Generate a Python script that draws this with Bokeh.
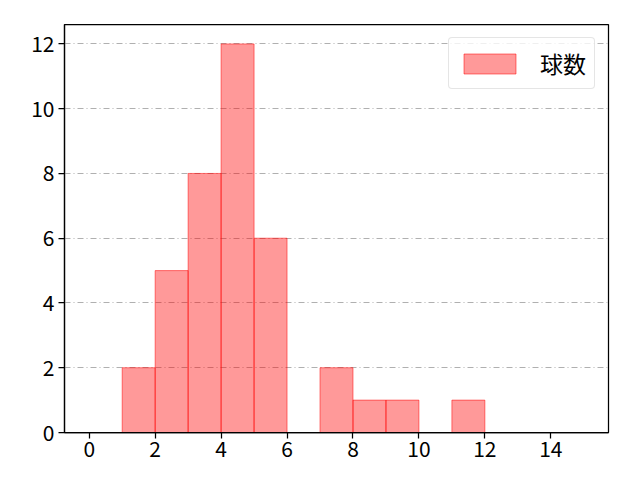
from bokeh.plotting import figure
from bokeh.models import ColumnDataSource, Range1d, FixedTicker, Legend, LegendItem
from bokeh.embed import file_html
from bokeh.resources import INLINE

bin_edges = list(range(0, 16))
counts = [0, 2, 5, 8, 12, 6, 0, 2, 1, 1, 0, 1, 0, 0, 0]
x_ticks = [0, 2, 4, 6, 8, 10, 12, 14]
y_ticks = [0, 2, 4, 6, 8, 10, 12]
series_name = "球数"

lefts = [bin_edges[i] for i in range(len(counts)) if counts[i] > 0]
rights = [bin_edges[i + 1] for i in range(len(counts)) if counts[i] > 0]
tops = [c for c in counts if c > 0]
src = ColumnDataSource(dict(left=lefts, right=rights, top=tops, bottom=[0] * len(tops)))

FONT = "Noto Sans CJK JP"

p = figure(width=624, height=464, output_backend="svg", toolbar_location=None,
           x_range=Range1d(-0.75, 15.75), y_range=Range1d(0, 12.6),
           min_border_left=64, min_border_top=24, min_border_right=16, min_border_bottom=32)

r = p.quad(left="left", right="right", top="top", bottom="bottom", source=src,
           fill_color="#ff0000", fill_alpha=0.4, line_color="#ff0000", line_alpha=0.5, line_width=1)

p.xaxis.ticker = FixedTicker(ticks=x_ticks)
p.yaxis.ticker = FixedTicker(ticks=y_ticks)
for ax in (p.xaxis, p.yaxis):
    ax.major_label_text_font = FONT
    ax.major_label_text_font_size = "21px"
    ax.major_label_text_color = "#000000"
    ax.axis_line_color = "#000000"
    ax.axis_line_width = 1.25
    ax.major_tick_line_color = "#000000"
    ax.major_tick_line_width = 1.25
    ax.major_tick_out = 6
    ax.major_tick_in = 0
    ax.minor_tick_line_color = None
p.xaxis.major_label_standoff = 2
p.yaxis.major_label_standoff = 4

p.xgrid.grid_line_color = None
p.ygrid.grid_line_color = "#b0b0b0"
p.ygrid.grid_line_dash = "6 3 1 3"
p.ygrid.grid_line_width = 1

p.outline_line_color = "#000000"
p.outline_line_width = 1.25
p.outline_line_alpha = 1

legend = Legend(items=[LegendItem(label=series_name, renderers=[r])], location="top_right")
legend.label_text_font = FONT
legend.label_text_font_size = "23px"
legend.label_text_color = "#000000"
legend.glyph_width = 65
legend.glyph_height = 25
legend.label_height = 30
legend.label_standoff = 18
legend.padding = 8
legend.margin = 13
legend.border_line_color = "#cccccc"
legend.border_line_width = 1
legend.border_radius = 4
legend.background_fill_alpha = 0.8
p.add_layout(legend)

open("out.html", "w").write(file_html(p, INLINE))
